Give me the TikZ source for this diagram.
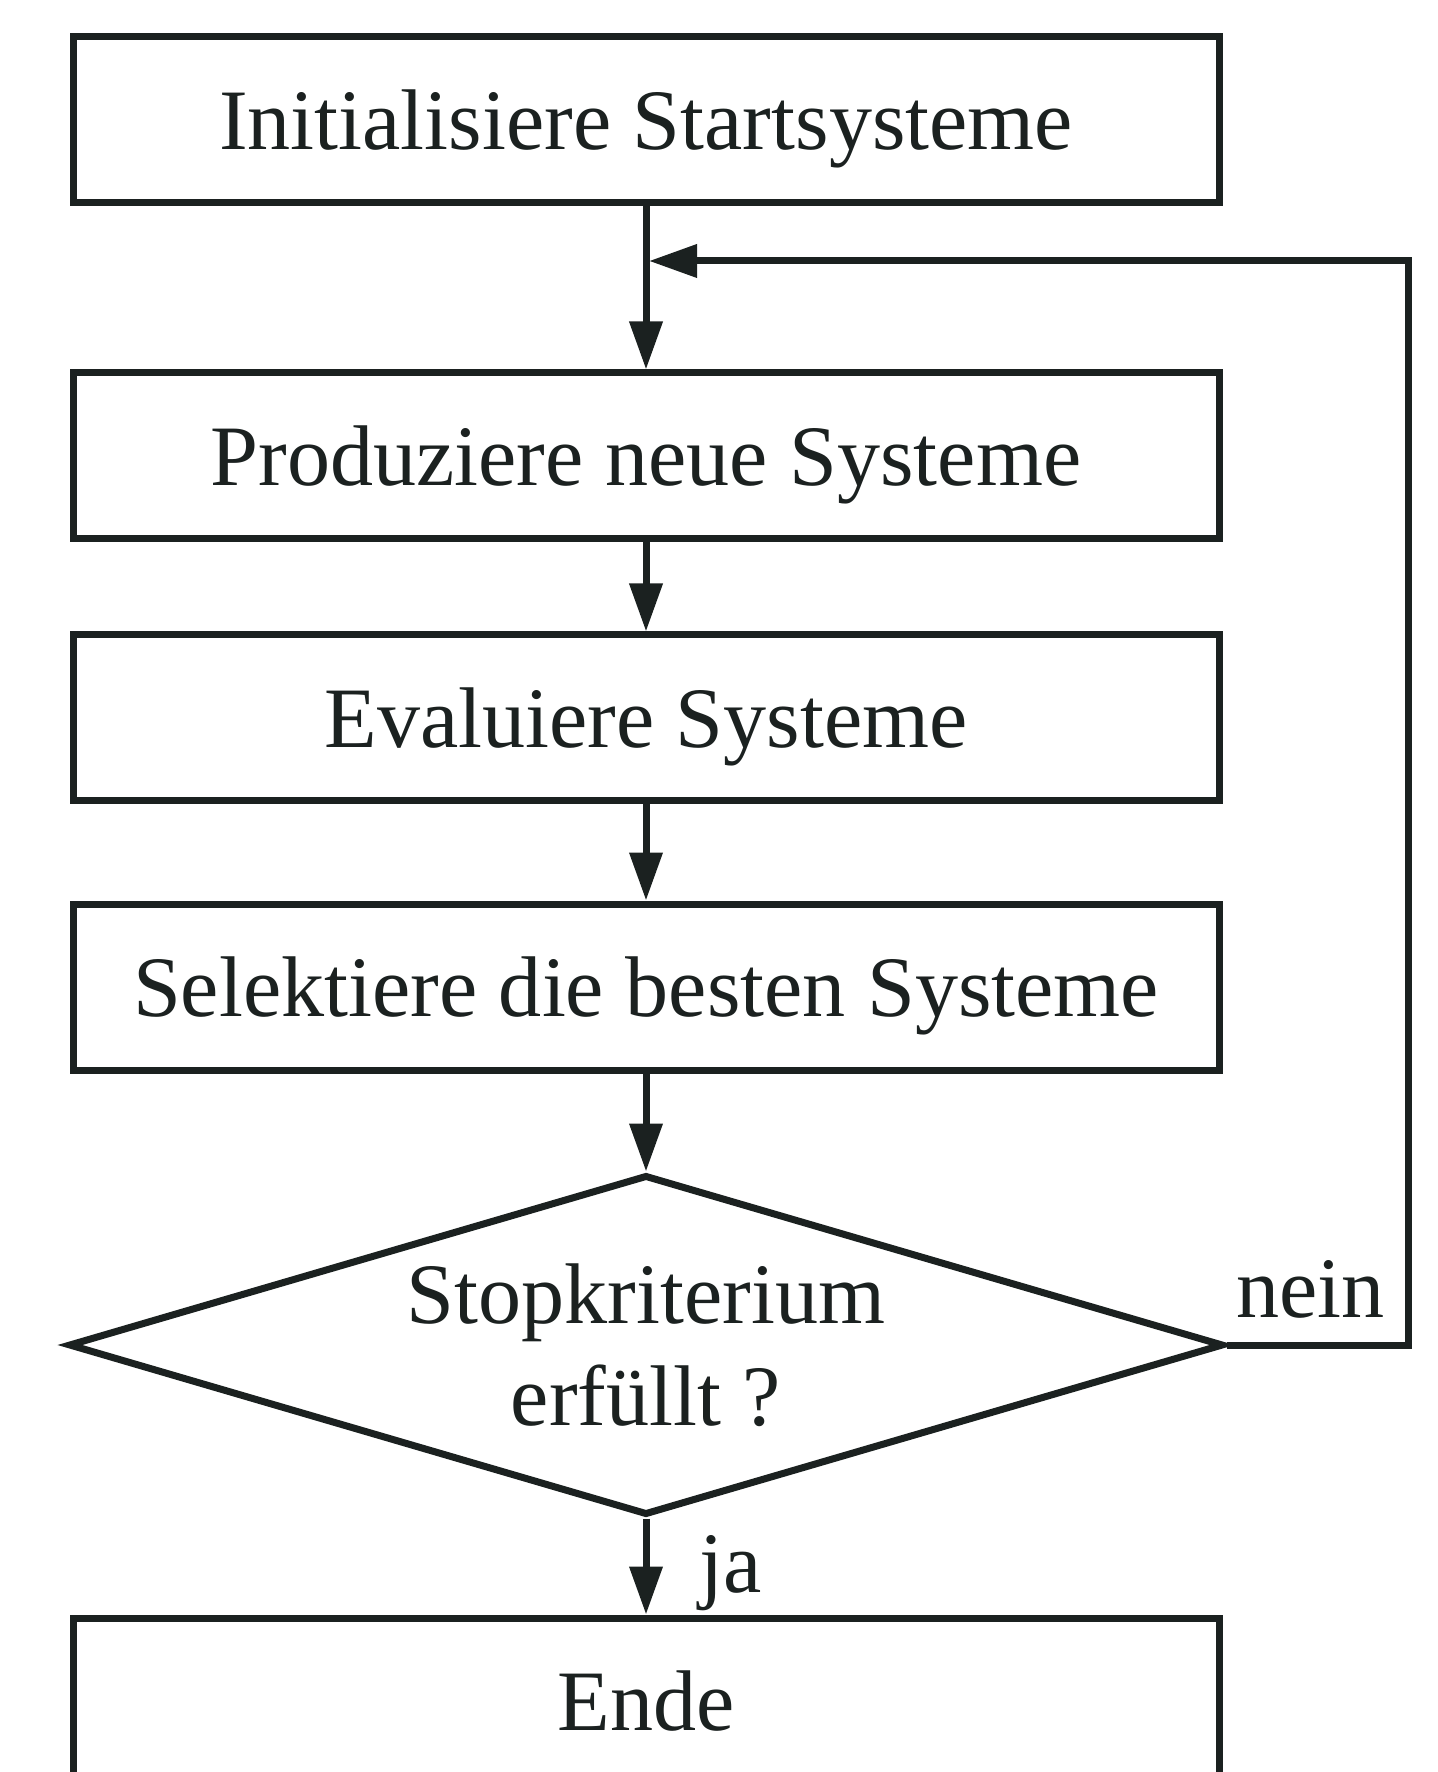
\documentclass[tikz,border=0pt]{standalone}
\usepackage{fontspec}
\setmainfont{Liberation Serif}
\usetikzlibrary{shapes.geometric,arrows.meta}
\definecolor{ink}{HTML}{1B2120}

\begin{document}
\begin{tikzpicture}[x=0.1mm, y=-0.1mm, line width=0.7mm, color=ink,
		>={Triangle[length=4.8mm,width=3.2mm]},
		box/.style={draw=ink, line width=0.7mm, minimum width=114.6mm, minimum height=16.6mm, inner sep=0pt, text depth=0pt, font=\fontsize{24.5}{29}\selectfont, text=ink},
		test/.style={draw=ink, diamond, aspect=3.4, line width=0.7mm, minimum width=115.5mm, minimum height=34mm, inner sep=0pt, align=center, font=\fontsize{24.5}{29}\selectfont, text=ink},
		lbl/.style={font=\fontsize{24.5}{29}\selectfont, text=ink, inner sep=0pt}]
		\useasboundingbox (0,0) rectangle (1437,1772);

		\node[box] (init) at (646,120) {Initialisiere Startsysteme};
		\node[box] (prod) at (646,456) {Produziere neue Systeme};
		\node[box] (eval) at (646,718) {Evaluiere Systeme};
		\node[box] (sel) at (646,987) {Selektiere die besten Systeme};
		\node[test] (stop) at (646,1345) {Stopkriterium\\erfüllt ?};
		\node[box] (ende) at (646,1701) {Ende};

		\draw[->] (init) -- (prod);
		\draw[->] (prod) -- (eval);
		\draw[->] (eval) -- (sel);
		\draw[->] (sel) -- (stop);
		\draw[->] (stop) -- (ende);

		% Rueckfuehrung
		\coordinate (back) at (1408,261);
		\draw[->] (stop.east) -| (back) -- ([xshift=0.3mm]init.south |- back);

		\node[lbl, anchor=base west] (nein) at (1233,1317) {nein};
		\node[lbl, anchor=base west] (ja) at (696,1592) {ja};
	\end{tikzpicture}
\end{document}
